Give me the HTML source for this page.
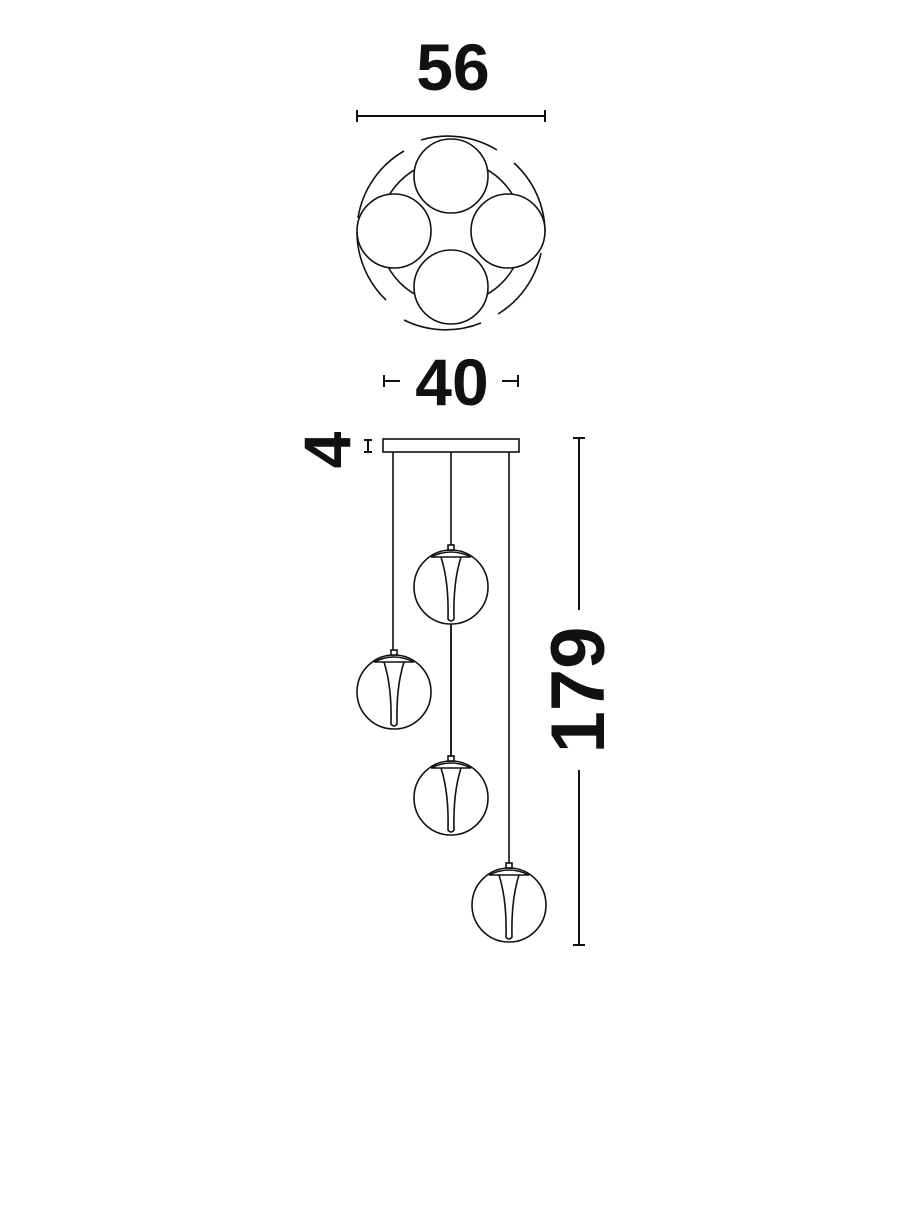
<!DOCTYPE html>
<html><head><style>body{margin:0;background:#fff}</style></head><body>
<svg width="910" height="1200" viewBox="0 0 910 1200" xmlns="http://www.w3.org/2000/svg">
<defs>
<g id="g" stroke="#111" stroke-width="1.6" fill="none"><circle cx="0" cy="0" r="37" fill="#fff"/><rect x="-3" y="-42" width="6" height="5" fill="#fff"/><path d="M-20 -30 Q0 -40 20 -30 Z"/><path d="M-10 -30 Q-2 -5 -3 32 Q0 36 3 32 Q2 -5 10 -30" /></g>
</defs>
<g font-family="Liberation Sans, sans-serif" font-weight="bold" fill="#111" text-anchor="middle">
<text x="453" y="90" font-size="66">56</text>
<text x="452" y="405" font-size="66">40</text>
<text transform="translate(350,450) rotate(-90)" font-size="66">4</text>
<text transform="translate(604,690) rotate(-90)" font-size="76">179</text>
</g>
<g stroke="#111" stroke-width="2" fill="none">
<line x1="357" y1="116" x2="545" y2="116"/><line x1="357" y1="110" x2="357" y2="122"/><line x1="545" y1="110" x2="545" y2="122"/>
<line x1="384" y1="381" x2="400" y2="381"/><line x1="384" y1="375" x2="384" y2="387"/>
<line x1="502" y1="381" x2="518" y2="381"/><line x1="518" y1="375" x2="518" y2="387"/>
<line x1="364" y1="440" x2="372" y2="440"/><line x1="364" y1="452" x2="372" y2="452"/><line x1="368" y1="440" x2="368" y2="452"/>
<line x1="579" y1="438" x2="579" y2="610"/><line x1="579" y1="770" x2="579" y2="945"/>
<line x1="573" y1="438" x2="585" y2="438"/><line x1="573" y1="945" x2="585" y2="945"/>
</g>
<g stroke="#111" stroke-width="1.6" fill="#fff">
<circle cx="451" cy="232" r="72" fill="none"/>
<path d="M358 218 A94 94 0 0 1 404 151 M421 140 A94 94 0 0 1 497 150 M514 163 A94 94 0 0 1 545 232 M541 253 A94 94 0 0 1 498 314 M481 323 A94 94 0 0 1 404 320 M386 300 A94 94 0 0 1 357 232" fill="none"/>
<circle cx="451" cy="176" r="37"/><circle cx="394" cy="231" r="37"/><circle cx="508" cy="231" r="37"/><circle cx="451" cy="287" r="37"/>
<rect x="383" y="439" width="136" height="13"/>
<line x1="393" y1="452" x2="393" y2="655"/><line x1="451" y1="452" x2="451" y2="762"/><line x1="509" y1="452" x2="509" y2="868"/>
</g>
<use href="#g" x="451" y="587"/><use href="#g" x="394" y="692"/><use href="#g" x="451" y="798"/><use href="#g" x="509" y="905"/>
<line x1="451" y1="624" x2="451" y2="757" stroke="#111" stroke-width="1.6"/>
</svg>
</body></html>
